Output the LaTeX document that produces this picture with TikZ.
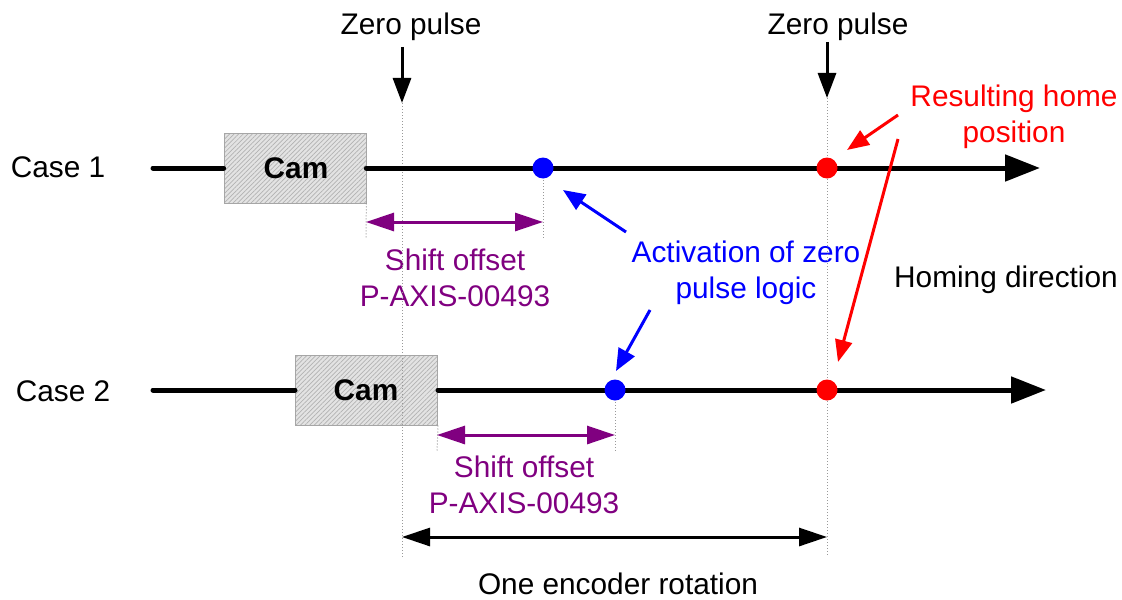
\documentclass[tikz,border=0pt]{standalone}
\usepackage{fontspec}
\setmainfont{Liberation Sans}
\usetikzlibrary{arrows.meta,patterns.meta}
\begin{document}
\begin{tikzpicture}[x=0.5pt,y=-0.5pt,
  lbl/.style={inner sep=0pt, font=\fontsize{14.9}{17.8}\selectfont, align=center},
  cambox/.style={draw=gray!70, line width=0.5pt, preaction={fill=gray!22},
     pattern={Lines[angle=45,distance=1.6pt,line width=0.35pt]}, pattern color=gray!60,
     minimum width=71pt, minimum height=35pt, inner sep=0pt},
  camtxt/.style={inner sep=0pt, font=\fontsize{14.9}{17.8}\selectfont\bfseries},
  mainline/.style={line width=2.5pt, line cap=round},
  mainarrow/.style={line width=2.5pt, line cap=round, -{Triangle[length=17.5pt,width=13pt]}},
  guide/.style={gray!80, line width=0.5pt, densely dotted},
  zparrow/.style={line width=1.5pt, -{Triangle[length=12.5pt,width=9pt]}},
  shiftarrow/.style={color={rgb,255:red,128;green,0;blue,128}, line width=1.5pt,
     {Triangle[length=14pt,width=9pt]}-{Triangle[length=14pt,width=9pt]}},
  encarrow/.style={line width=1.5pt, {Triangle[length=14pt,width=9pt]}-{Triangle[length=14pt,width=9pt]}},
  bluearrow/.style={blue, line width=1.5pt, -{Triangle[length=11pt,width=9pt]}},
  redarrow/.style={red, line width=1.5pt, -{Triangle[length=11pt,width=8.5pt]}},
  dot/.style={circle, inner sep=0pt, minimum size=10.5pt},
]
\definecolor{purp}{RGB}{128,0,128}
\useasboundingbox (0,0) rectangle (1122,599);

% texts
\node[lbl] (zp1) at (411,27) {Zero pulse};
\node[lbl] (zp2) at (838,27) {Zero pulse};
\node[lbl] (case1) at (58,167) {Case 1};
\node[lbl] (case2) at (63,391) {Case 2};
\node[lbl, text=purp] (sh1) at (455,278) {Shift offset\\P-AXIS-00493};
\node[lbl, text=purp] (sh2) at (524,485) {Shift offset\\P-AXIS-00493};
\node[lbl, text=blue] (act) at (746,273) {Activation of zero\\pulse logic};
\node[lbl, text=red] (res) at (1014,117) {Resulting home\\position};
\node[lbl] (hom) at (1006,280) {Homing direction};
\node[lbl] (enc) at (618,584) {One encoder rotation};

% cam boxes
\node[cambox] (cam1) at (295,168) {};
\node[camtxt] (cam1t) at (296,168) {Cam};
\node[cambox] (cam2) at (366.5,390) {};
\node[camtxt] (cam2t) at (366,390) {Cam};

% coordinates
\coordinate (zp1s) at (402,47);
\coordinate (zp1e) at (402,103);
\coordinate (zp2s) at (827,42);
\coordinate (zp2e) at (827,98);
\coordinate (g1b) at (402,557);
\coordinate (g2b) at (827,557);
\coordinate (l1s) at (153,168);
\coordinate (l1e) at (1040,168);
\coordinate (l2s) at (153,390);
\coordinate (l2e) at (1046,390);
\coordinate (e1) at (402,537);
\coordinate (e2) at (827,537);

% dots positions
\coordinate (b1c) at (543,168);
\coordinate (r1c) at (827,168);
\coordinate (b2c) at (615,390);
\coordinate (r2c) at (827,390);

% guides
\draw[guide] (zp1e) -- (g1b);
\draw[guide] (zp2e) -- (g2b);
\coordinate (gs1a) at (366,238);
\coordinate (gs1b) at (543,238);
\coordinate (gs2a) at (437,452);
\coordinate (gs2b) at (615,452);
\draw[guide] (cam1.south east) -- (gs1a);
\draw[guide] (b1c) -- (gs1b);
\draw[guide] (cam2.south east) -- (gs2a);
\draw[guide] (b2c) -- (gs2b);

% main lines
\draw[mainline] (l1s) -- (cam1.west);
\draw[mainarrow] (cam1.east) -- (l1e);
\draw[mainline] (l2s) -- (cam2.west);
\draw[mainarrow] (cam2.east) -- (l2e);

% dots
\node[dot, fill=blue] (b1) at (b1c) {};
\node[dot, fill=red] (r1) at (r1c) {};
\node[dot, fill=blue] (b2) at (b2c) {};
\node[dot, fill=red] (r2) at (r2c) {};

% zero pulse arrows
\draw[zparrow] (zp1s) -- (zp1e);
\draw[zparrow] (zp2s) -- (zp2e);

% shift arrows
\coordinate (s1a) at (366,222);
\coordinate (s1b) at (543,222);
\coordinate (s2a) at (437,435);
\coordinate (s2b) at (615,435);
\draw[shiftarrow] (s1a) -- (s1b);
\draw[shiftarrow] (s2a) -- (s2b);

% encoder arrow
\draw[encarrow] (e1) -- (e2);

% blue arrows
\coordinate (ba1s) at (626,232);
\coordinate (ba1e) at (563,190);
\coordinate (ba2s) at (650,310);
\coordinate (ba2e) at (616,371);
\draw[bluearrow] (ba1s) -- (ba1e);
\draw[bluearrow] (ba2s) -- (ba2e);

% red arrows
\coordinate (ra1s) at (898,115);
\coordinate (ra1e) at (847,150);
\coordinate (ra2s) at (898,139);
\coordinate (ra2e) at (838,362);
\draw[redarrow] (ra1s) -- (ra1e);
\draw[redarrow] (ra2s) -- (ra2e);
\end{tikzpicture}
\end{document}
